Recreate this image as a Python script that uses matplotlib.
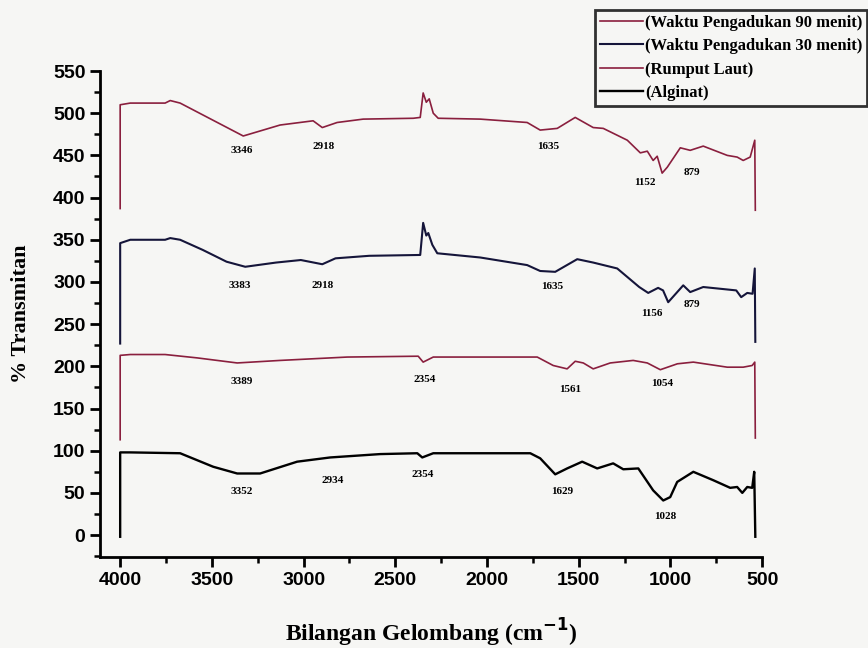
import numpy as np
import matplotlib
matplotlib.use("Agg")
import matplotlib.pyplot as plt
from matplotlib.ticker import MultipleLocator

# data (wavenumber cm-1, % transmitan with offset)
wn_90 = [4000, 4000, 3945, 3755, 3727, 3673, 3329, 3128, 2948, 2898, 2817, 2675, 2402, 2364,
         2348, 2331, 2315, 2293, 2266, 2037, 1781, 1710, 1617, 1519, 1421, 1366, 1235, 1164,
         1126, 1094, 1072, 1045, 1017, 946, 892, 821, 690, 636, 603, 565, 540, 537]
t_90 = [387, 510, 512, 512, 515, 512, 473, 486, 491, 483, 489, 493, 494, 495,
        524, 513, 517, 500, 494, 493, 489, 480, 482, 495, 483, 482, 468, 453,
        455, 444, 449, 429, 436, 459, 456, 461, 450, 448, 444, 448, 468, 385]

wn_30 = [4000, 4000, 3945, 3755, 3727, 3673, 3550, 3420, 3318, 3150, 3015, 2898, 2826, 2642,
         2364, 2348, 2331, 2320, 2298, 2271, 2037, 1781, 1710, 1628, 1508, 1421, 1290, 1170,
         1121, 1067, 1040, 1012, 930, 892, 821, 641, 614, 581, 552, 540, 537]
t_30 = [227, 346, 350, 350, 352, 350, 338, 324, 318, 323, 326, 321, 328, 331,
        332, 370, 355, 358, 344, 334, 329, 320, 313, 312, 327, 323, 316, 294,
        287, 293, 290, 276, 296, 288, 294, 290, 282, 287, 286, 316, 229]

wn_rl = [4000, 4000, 3945, 3755, 3580, 3362, 3128, 2762, 2375, 2348, 2293, 2037, 1726, 1639,
         1563, 1519, 1475, 1421, 1328, 1203, 1126, 1055, 962, 875, 690, 603, 554, 540, 537]
t_rl = [113, 213, 214, 214, 210, 204, 207, 211, 212, 205, 211, 211, 211, 201,
        197, 206, 204, 197, 204, 207, 204, 196, 203, 205, 199, 199, 201, 205, 115]

wn_alg = [4000, 4000, 3945, 3673, 3493, 3362, 3237, 3035, 2855, 2582, 2380, 2353, 2293, 2037,
          1764, 1710, 1628, 1563, 1481, 1399, 1312, 1257, 1175, 1094, 1039, 1001, 963, 875,
          766, 674, 636, 608, 581, 554, 543, 537]
t_alg = [-2, 98, 98, 97, 81, 73, 73, 87, 92, 96, 97, 92, 97, 97,
         97, 91, 72, 79, 87, 79, 85, 78, 79, 53, 41, 45, 63, 75,
         65, 56, 57, 50, 57, 56, 75, -2]

# peak labels: text, wavenumber, y
peak_txt = ["3346", "2918", "1635", "1152", "879",
            "3383", "2918", "1635", "1156", "879",
            "3389", "2354", "1561", "1054",
            "3352", "2934", "2354", "1629", "1028"]
peak_x = [3335, 2893, 1666, 1137, 881,
          3346, 2898, 1644, 1099, 881,
          3335, 2337, 1546, 1045,
          3335, 2839, 2348, 1590, 1028]
peak_y = [456, 461, 460, 418, 430,
          296, 296, 295, 263, 273,
          182, 184, 173, 180,
          52, 65, 72, 52, 22]

red = '#8a1f3e'
navy = '#15153a'

fig = plt.figure(figsize=(8.68, 6.48), dpi=100, facecolor='#f6f6f4')
ax = fig.add_axes([0.1152, 0.1404, 0.7628, 0.75])
ax.set_facecolor('#f6f6f4')

ax.plot(wn_90, t_90, color=red, lw=1.2, label='(Waktu Pengadukan 90 menit)')
ax.plot(wn_30, t_30, color=navy, lw=1.5, label='(Waktu Pengadukan 30 menit)')
ax.plot(wn_rl, t_rl, color=red, lw=1.2, label='(Rumput Laut)')
ax.plot(wn_alg, t_alg, color='black', lw=1.7, label='(Alginat)')

for s, x, y in zip(peak_txt, peak_x, peak_y):
    ax.text(x, y, s, fontsize=8, fontweight='bold', family='Liberation Serif',
            ha='center', va='center')

ax.set_xlim(4110, 500)
ax.set_ylim(-26, 550)
ax.xaxis.set_minor_locator(MultipleLocator(250))
ax.yaxis.set_minor_locator(MultipleLocator(25))
ax.set_xticks(np.arange(4000, 499, -500))
ax.set_yticks(np.arange(0, 551, 50))

for side in ['top', 'right']:
    ax.spines[side].set_visible(False)
for side in ['left', 'bottom']:
    ax.spines[side].set_linewidth(2)
ax.tick_params(which='major', direction='out', length=7, width=2, labelsize=14)
ax.tick_params(which='minor', direction='out', length=4, width=1.8)
for lab in ax.get_xticklabels() + ax.get_yticklabels():
    lab.set_fontweight('bold')
    lab.set_family('Liberation Sans')

ax.set_xlabel('Bilangan Gelombang (cm$^{\\mathbf{-1}}$)', fontsize=17, fontweight='bold',
              family='Liberation Serif', labelpad=20)
ax.set_ylabel('% Transmitan', fontsize=16, fontweight='bold', family='Liberation Serif',
              labelpad=16)

leg = fig.legend(loc='upper right', bbox_to_anchor=(0.999, 0.985), frameon=True,
                 fancybox=False, edgecolor='black', handlelength=2.6, handletextpad=0.1,
                 borderpad=0.3, labelspacing=0.45, borderaxespad=0,
                 prop={'family': 'Liberation Serif', 'weight': 'bold', 'size': 12})
leg.get_frame().set_linewidth(2)
leg.get_frame().set_facecolor('#f6f6f4')

fig.savefig('out.png', dpi=100, facecolor=fig.get_facecolor())
